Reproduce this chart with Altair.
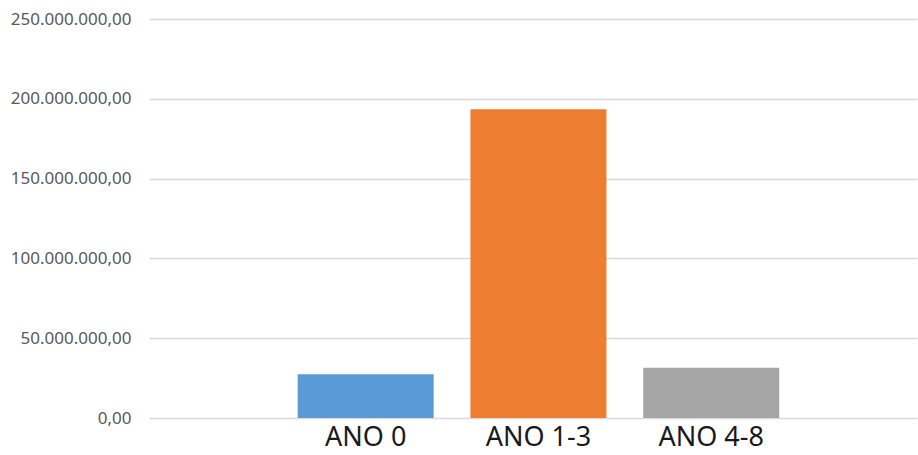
import altair as alt
import pandas as pd

categories = ["ANO 0", "ANO 1-3", "ANO 4-8"]
values = [27400000, 193400000, 31500000]
colors = ["#5B9BD5", "#ED7D31", "#A5A5A5"]
y_ticks = [0, 50000000, 100000000, 150000000, 200000000, 250000000]

df = pd.DataFrame({"cat": categories, "val": values})

label_expr = ("replace(replace(replace(format(datum.value, ',.2f'), regexp(',', 'g'), '#'), "
              "regexp('\\\\.', 'g'), ','), regexp('#', 'g'), '.')")

chart = alt.Chart(df).mark_bar().encode(
    x=alt.X("cat:N", sort=categories, title=None,
            scale=alt.Scale(paddingInner=0.213, paddingOuter=0.829, align=0.519),
            axis=alt.Axis(labelAngle=0, labelFont="Noto Sans", labelFontSize=27,
                          labelColor="#1a1a1a", ticks=False, domain=False,
                          labelPadding=6, grid=False)),
    y=alt.Y("val:Q", title=None,
            scale=alt.Scale(domain=[0, 250000000], nice=False),
            axis=alt.Axis(values=y_ticks, labelExpr=label_expr, labelFont="Noto Sans",
                          labelFontSize=17, labelColor="#595959", ticks=False,
                          domain=False, labelPadding=18, gridColor="#d9d9d9",
                          gridWidth=1.5)),
    color=alt.Color("cat:N", scale=alt.Scale(domain=categories, range=colors), legend=None),
).properties(
    width=768, height=399,
    background="white",
    autosize=alt.AutoSizeParams(type="none"),
    padding={"left": 149, "top": 19, "right": 1, "bottom": 37},
).configure_view(strokeWidth=0, stroke=None)

chart.save("out.html", embed_options={"renderer": "svg", "actions": False})
